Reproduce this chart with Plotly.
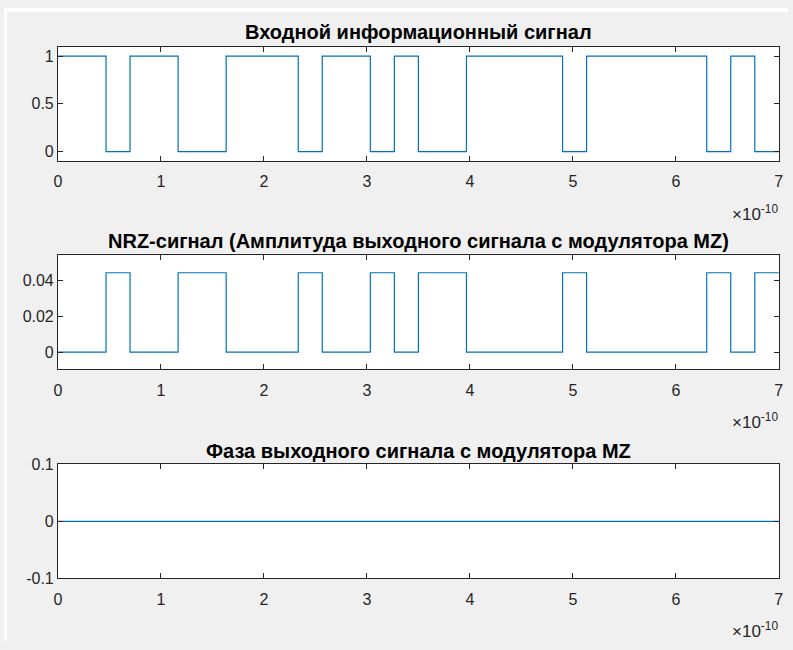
import plotly.graph_objects as go

# ---- data ----
bit_period_s = 7e-10 / 30          # 30 bits over 0..7e-10 s
input_bits = [1, 1, 0, 1, 1, 0, 0, 1, 1, 1,
              0, 1, 1, 0, 1, 0, 0, 1, 1, 1,
              1, 0, 1, 1, 1, 1, 1, 0, 1, 0]
H = 0.0445
nrz_levels = [0, 0, H, 0, 0, H, H, 0, 0, 0,
              H, 0, 0, H, 0, H, H, 0, 0, 0,
              0, H, 0, 0, 0, 0, 0, H, 0, H]
phase_time = [0.0, 7e-10]
phase_values = [0.0, 0.0]

x_tick_vals = [0, 1e-10, 2e-10, 3e-10, 4e-10, 5e-10, 6e-10, 7e-10]
x_tick_text = ["0", "1", "2", "3", "4", "5", "6", "7"]

titles = ["Входной информационный сигнал",
          "NRZ-сигнал (Амплитуда выходного сигнала с модулятора MZ)",
          "Фаза выходного сигнала с модулятора MZ"]

# step-time grid (bit edges)
t_edges = [i * bit_period_s for i in range(len(input_bits) + 1)]
bits_step = input_bits + [input_bits[-1]]
nrz_step = nrz_levels + [nrz_levels[-1]]

W, Hgt = 793, 650
def px_x(p): return p / W
def px_y(p): return 1 - p / Hgt

LINE = "#0072BD"
AX = "#262626"
BG = "#f0f0f0"
FONT = "Liberation Sans, Arial, Helvetica, sans-serif"

fig = go.Figure()
fig.add_trace(go.Scatter(x=t_edges, y=bits_step, mode="lines", line_shape="hv",
                         line=dict(color=LINE, width=1.2), xaxis="x", yaxis="y",
                         showlegend=False))
fig.add_trace(go.Scatter(x=t_edges, y=nrz_step, mode="lines", line_shape="hv",
                         line=dict(color=LINE, width=1.2), xaxis="x2", yaxis="y2",
                         showlegend=False))
fig.add_trace(go.Scatter(x=phase_time, y=phase_values, mode="lines",
                         line=dict(color=LINE, width=1.2), xaxis="x3", yaxis="y3",
                         showlegend=False))

xdom = [px_x(54.6), px_x(783.7)]
ydoms = [[px_y(157.3), px_y(39.6)], [px_y(371.2), px_y(253.9)], [px_y(585.8), px_y(468.4)]]
yranges = [[-0.1, 1.1], [-0.0097, 0.0543], [-0.1, 0.1]]
yticks = [([0, 0.5, 1], ["0", "0.5", "1"]),
          ([0, 0.02, 0.04], ["0", "0.02", "0.04"]),
          ([-0.1, 0, 0.1], ["-0.1", "0", "0.1"])]

common_axis = dict(showline=True, linecolor=AX, linewidth=1, mirror="allticks",
                   ticks="inside", ticklen=5, tickcolor=AX, tickwidth=1,
                   showgrid=False, zeroline=False,
                   tickfont=dict(family=FONT, size=16, color=AX))

layout = dict(width=W, height=Hgt, margin=dict(l=0, r=0, t=0, b=0),
              paper_bgcolor=BG, plot_bgcolor="white", showlegend=False)
for i in range(3):
    s = "" if i == 0 else str(i + 1)
    layout["xaxis" + s] = dict(domain=xdom, range=[0, 7e-10], anchor="y" + s,
                               tickvals=x_tick_vals, ticktext=x_tick_text,
                               ticklabelstandoff=6, **common_axis)
    layout["yaxis" + s] = dict(domain=ydoms[i], range=yranges[i], anchor="x" + s,
                               tickvals=yticks[i][0], ticktext=yticks[i][1], **common_axis)
fig.update_layout(**layout)

title_y = [24.2, 238.8, 454.4]
exp_y = [211, 424.6, 639]
annotations = []
for i in range(3):
    annotations.append(dict(text="<b>" + titles[i] + "</b>", x=px_x(419.1), y=px_y(title_y[i]),
                            xref="paper", yref="paper", showarrow=False,
                            xanchor="center", yanchor="middle",
                            font=dict(family=FONT, size=20, color="black")))
    annotations.append(dict(text="×10<sup>-10</sup>", x=px_x(785.4), y=px_y(exp_y[i]),
                            xref="paper", yref="paper", showarrow=False,
                            xanchor="right", yanchor="middle",
                            font=dict(family=FONT, size=17, color=AX)))
fig.update_layout(annotations=annotations)

# white border strips at the top and left (as in the reference)
fig.update_layout(shapes=[
    dict(type="rect", xref="paper", yref="paper", x0=0, x1=1, y0=px_y(4), y1=1,
         fillcolor="white", line=dict(width=0), layer="above"),
    dict(type="rect", xref="paper", yref="paper", x0=0, x1=px_x(3), y0=0, y1=1,
         fillcolor="white", line=dict(width=0), layer="above"),
])

post = ("document.body.style.margin='0';"
        "document.documentElement.style.background="
        "'linear-gradient(to bottom, #ffffff 0px, #ffffff 8px, #f0f0f0 8px)';")
fig.write_html("out.html", post_script=post, config={"displayModeBar": False})
